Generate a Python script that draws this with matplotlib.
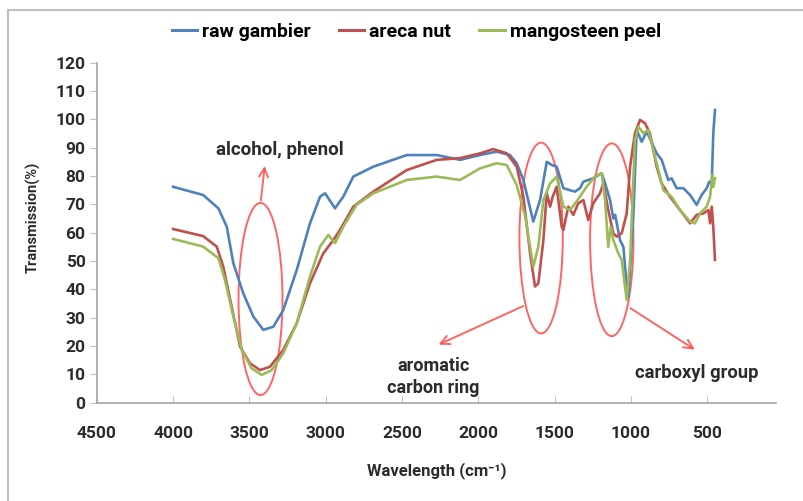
import numpy as np
import matplotlib.pyplot as plt
from matplotlib.patches import Ellipse
from matplotlib.lines import Line2D

# wavenumber (cm-1) and transmission (%)
gambier_wn = [4000, 3803, 3703, 3648, 3605, 3540, 3474, 3409, 3343, 3278, 3190, 3103, 3037,
              3004, 2939, 2885, 2819, 2688, 2469, 2273, 2120, 1989, 1880, 1793, 1749, 1705,
              1640, 1596, 1552, 1519, 1487, 1443, 1400, 1367, 1334, 1312, 1247, 1192, 1170,
              1137, 1116, 1104, 1072, 1050, 1028, 1017, 985, 963, 930, 897, 832, 799, 756,
              734, 701, 657, 613, 570, 537, 504, 487, 471, 461, 450]
gambier_t = [76.2, 73.3, 68.6, 62.1, 49.2, 38.6, 30.4, 25.7, 26.8, 32.7, 46.8, 63.3, 72.7,
             73.9, 68.6, 72.7, 79.8, 83.3, 87.4, 87.4, 85.7, 87.4, 88.6, 87.4, 84.5, 78.6,
             63.9, 71.5, 85.0, 83.9, 83.3, 75.7, 75.0, 74.5, 75.7, 78.0, 79.2, 81.0, 77.4,
             71.5, 65.0, 66.3, 57.4, 55.0, 41.0, 37.4, 65.7, 96.3, 92.1, 95.7, 88.0, 85.7, 78.6,
             79.2, 75.7, 75.7, 73.3, 69.8, 73.3, 75.7, 78.0, 77.4, 95.1, 103.3]

areca_wn = [4000, 3803, 3714, 3671, 3616, 3561, 3496, 3430, 3365, 3278, 3190, 3103, 3016,
            2950, 2906, 2819, 2688, 2469, 2273, 2120, 1989, 1902, 1814, 1749, 1705, 1661,
            1629, 1607, 1574, 1552, 1530, 1513, 1487, 1454, 1443, 1411, 1378, 1345, 1312,
            1280, 1247, 1203, 1181, 1149, 1116, 1094, 1061, 1028, 1006, 974, 941, 908, 876,
            832, 799, 745, 679, 613, 570, 526, 493, 482, 471, 461, 450]
areca_t = [61.3, 58.8, 55.1, 48.0, 33.9, 19.8, 13.9, 11.5, 12.7, 18.6, 28.0, 42.1, 52.7,
           57.4, 61.0, 69.2, 74.5, 82.1, 85.7, 86.3, 88.0, 89.5, 88.0, 83.3, 72.7, 52.7,
           41.0, 42.1, 57.4, 73.9, 69.2, 72.7, 76.2, 62.1, 61.0, 69.2, 66.3, 70.4, 71.5,
           64.5, 70.4, 73.9, 77.4, 68.0, 59.8, 58.6, 59.8, 66.8, 83.3, 95.1, 99.8, 98.6, 95.1,
           83.3, 77.4, 72.7, 68.0, 63.3, 66.3, 66.8, 68.0, 63.3, 69.2, 62.1, 50.4]

mangosteen_wn = [4000, 3803, 3703, 3660, 3605, 3550, 3485, 3419, 3354, 3278, 3190, 3103, 3037,
                 2983, 2939, 2885, 2798, 2688, 2469, 2273, 2120, 1989, 1880, 1814, 1749, 1694,
                 1640, 1607, 1574, 1530, 1487, 1443, 1400, 1356, 1291, 1236, 1192, 1170, 1149,
                 1133, 1116, 1083, 1061, 1028, 1006, 974, 952, 919, 886, 832, 788, 734, 679,
                 613, 581, 548, 504, 482, 466, 461, 450]
mangosteen_t = [57.8, 55.1, 51.0, 43.3, 30.4, 18.6, 12.1, 9.8, 11.5, 17.4, 28.0, 44.5, 55.1,
                59.2, 56.3, 62.1, 69.8, 73.9, 78.6, 79.8, 78.6, 82.7, 84.5, 83.9, 76.8, 66.0,
                48.0, 55.1, 71.5, 77.4, 79.8, 69.2, 68.0, 71.0, 76.2, 79.8, 81.0, 71.5, 55.0,
                62.1, 57.4, 52.7, 50.4, 36.2, 50.4, 92.7, 97.4, 95.1, 96.3, 84.5, 75.0, 72.7, 68.0,
                63.9, 63.3, 66.8, 69.2, 72.7, 80.5, 76.2, 79.2]

series_names = ["raw gambier", "areca nut", "mangosteen peel"]
series_colors = ["#4F81BD", "#C0504D", "#9BBB59"]

x_ticks = [4500, 4000, 3500, 3000, 2500, 2000, 1500, 1000, 500]
y_ticks = list(range(0, 121, 10))

FONT = ["Roboto", "DejaVu Sans"]
TXT = "#2b2b2b"
RING = "#FF4A4A"

plt.rcParams["font.family"] = FONT

fig = plt.figure(figsize=(8.04, 5.01), dpi=100)
ax = fig.add_axes([0.1203, 0.1962, 0.8449, 0.6787])

data = [(gambier_wn, gambier_t), (areca_wn, areca_t), (mangosteen_wn, mangosteen_t)]
for (wn, t), c in zip(data, series_colors):
    ax.plot(wn, t, color=c, lw=1.9, solid_joinstyle="round")

ax.set_xlim(4500, 50)
ax.set_ylim(0, 120)
ax.set_xticks(x_ticks)
ax.set_yticks(y_ticks)
ax.tick_params(axis="x", direction="in", length=5, pad=17, labelsize=12.5, colors="#BFBFBF",
               labelcolor=TXT)
ax.tick_params(axis="y", direction="out", length=5, pad=3, labelsize=12.5, colors="#BFBFBF",
               labelcolor=TXT)
for lab in ax.get_xticklabels() + ax.get_yticklabels():
    lab.set_fontweight("bold")
for s in ["top", "right"]:
    ax.spines[s].set_visible(False)
for s in ["left", "bottom"]:
    ax.spines[s].set_color("#A6A6A6")
    ax.spines[s].set_linewidth(1.2)

ax.set_xlabel("Wavelength (cm⁻¹)", fontsize=12, fontweight="bold", color=TXT, labelpad=15)
fig.text(0.041, 0.567, "Transmission(%)", rotation=90, ha="center", va="center",
         fontsize=10.5, fontweight="bold", color=TXT)

# ellipses marking the bands
for cx, cy, w, h in [(3427, 36.6, 288, 67.8), (1589, 58.1, 284, 67.3), (1126, 57.5, 284, 68)]:
    ax.add_patch(Ellipse((cx, cy), w, h, fill=False, ec=RING, lw=1.4, alpha=0.85))

arrow = dict(arrowstyle="->", color=RING, lw=1.4, mutation_scale=16, alpha=0.85)
ax.annotate("", xy=(3397, 84.5), xytext=(3427, 70.4), arrowprops=arrow)
ax.annotate("", xy=(2277, 20.1), xytext=(1690, 34.5), arrowprops=arrow)
ax.annotate("", xy=(567, 18.2), xytext=(1019, 33.9), arrowprops=arrow)

ax.text(3300, 89.2, "alcohol, phenol", ha="center", va="center", fontsize=13.5,
        fontweight="bold", color=TXT)
ax.text(2296, 9.0, "aromatic\ncarbon ring", ha="center", va="center", fontsize=13,
        fontweight="bold", color=TXT, linespacing=1.25)
ax.text(567, 10.5, "carboxyl group", ha="center", va="center", fontsize=13.2,
        fontweight="bold", color=TXT)

handles = [Line2D([], [], color=c, lw=2.2) for c in series_colors]
fig.legend(handles, series_names, loc="center", bbox_to_anchor=(0.518, 0.937), ncol=3,
           frameon=False, handlelength=1.3, handletextpad=0.25, columnspacing=1.45,
           prop={"weight": "bold", "size": 14})

# chart frame (top and left edges visible)
fig.add_artist(Line2D([0.01, 1.0], [0.98, 0.98], color="#BFBFBF", lw=1.5))
fig.add_artist(Line2D([0.01, 0.01], [0.0, 0.98], color="#BFBFBF", lw=1.5))

fig.savefig("out.png", dpi=100)
